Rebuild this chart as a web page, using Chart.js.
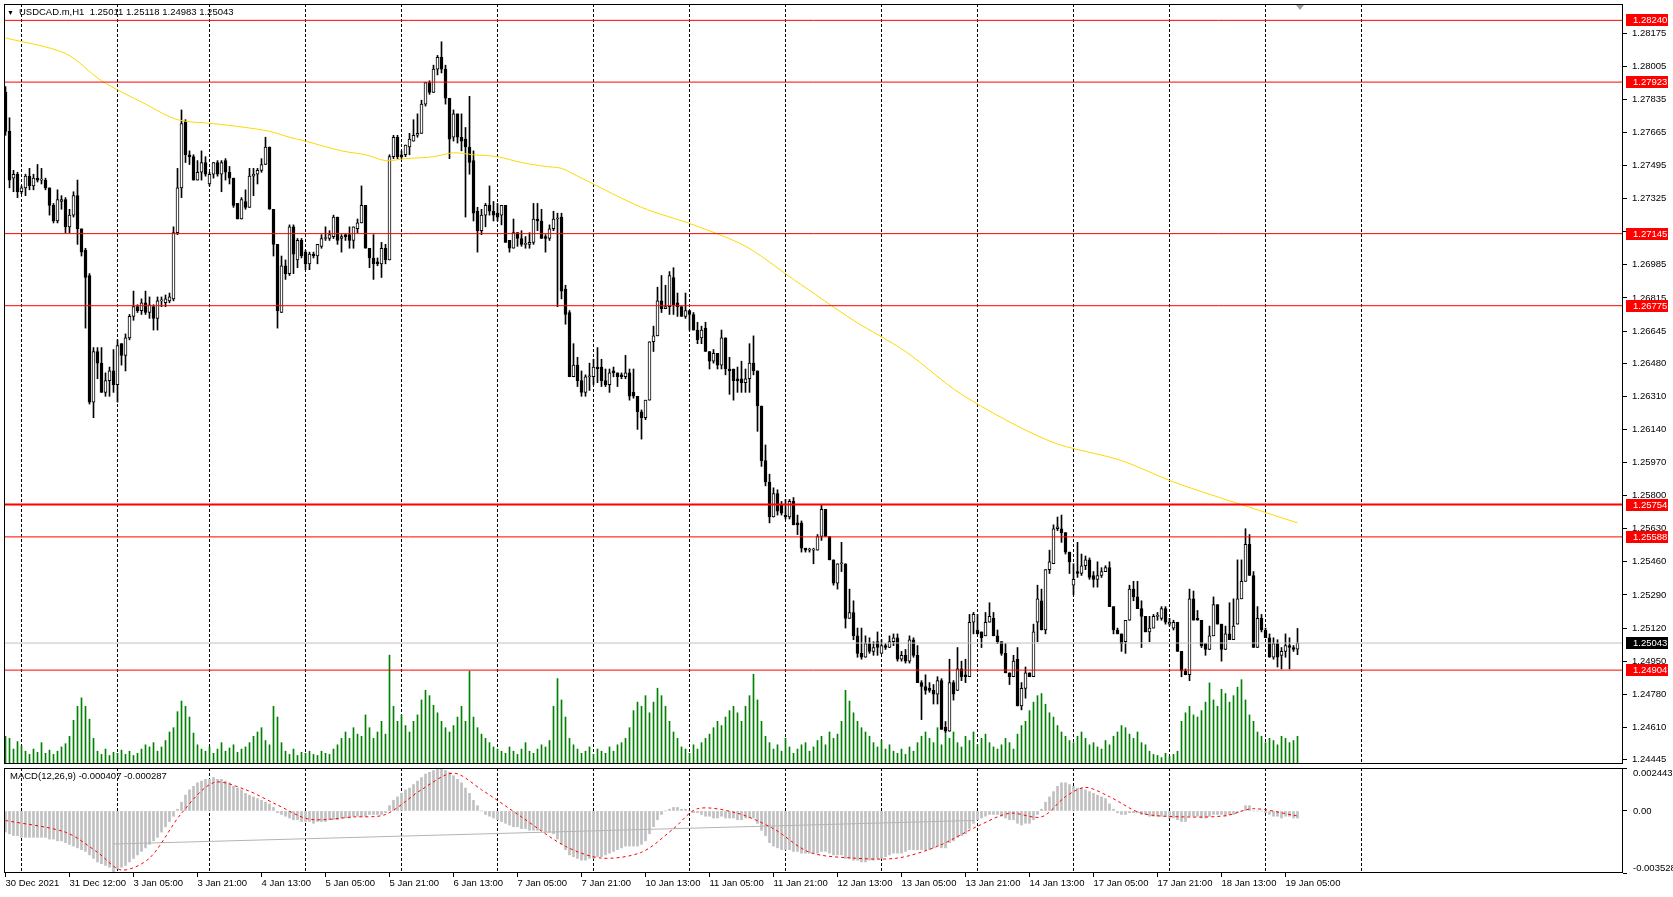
<!DOCTYPE html>
<html lang="en">
<head>
<meta charset="utf-8">
<title>USDCAD.m,H1</title>
<script src="https://cdn.jsdelivr.net/npm/chart.js@4.4.1/dist/chart.umd.min.js"></script>
<style>
  html, body { margin: 0; background: #fff; }
  #wrap { position: relative; width: 1673px; height: 897px; overflow: hidden; background: #fff; }
  canvas { position: absolute; left: 0; }
  #main { top: 0; }
  #macd { top: 767px; }
  .cap { position: absolute; font: 9.5px 'Liberation Sans', Arial, sans-serif; color: #000; white-space: pre; }
  .cap .tri { font-size: 7px; margin-right: 5px; }
  #symCap { left: 7px; top: 6px; }
  #macdCap { left: 10px; top: 770px; }
</style>
</head>
<body>
<div id="wrap">
  <canvas id="main" width="1673" height="767"></canvas>
  <canvas id="macd" width="1673" height="130"></canvas>
  <div class="cap" id="symCap"></div>
  <div class="cap" id="macdCap"></div>
</div>
<script>
// hourly candles, bar 0 = 30 Dec 2021
const open = [
  1.2787,1.2767,1.2743,1.2745,1.2736,1.2738,1.2744,1.2739,1.2743,1.2742,1.2742,1.2738,
  1.2729,1.2721,1.2731,1.2732,1.2718,1.2724,1.2734,1.2717,1.2706,1.2693,1.2628,1.2654,
  1.2648,1.2633,1.2639,1.2644,1.2637,1.2658,1.2652,1.2661,1.2672,1.2677,1.2675,1.2679,
  1.2674,1.2677,1.2671,1.2680,1.2679,1.2680,1.2681,1.2715,1.2738,1.2772,1.2755,1.2754,
  1.2742,1.2746,1.2751,1.2740,1.2745,1.2751,1.2745,1.2752,1.2746,1.2743,1.2730,1.2722,
  1.2731,1.2728,1.2744,1.2745,1.2747,1.2750,1.2759,1.2727,1.2709,1.2674,1.2698,1.2694,
  1.2718,1.2701,1.2711,1.2705,1.2699,1.2704,1.2703,1.2708,1.2712,1.2712,1.2713,1.2723,
  1.2712,1.2714,1.2714,1.2711,1.2717,1.2720,1.2729,1.2707,1.2702,1.2700,1.2699,1.2707,
  1.2701,1.2754,1.2764,1.2755,1.2755,1.2759,1.2762,1.2765,1.2766,1.2781,1.2792,1.2787,
  1.2799,1.2805,1.2799,1.2784,1.2764,1.2776,1.2764,1.2763,1.2759,1.2752,1.2726,1.2716,
  1.2724,1.2729,1.2726,1.2725,1.2724,1.2729,1.2711,1.2707,1.2715,1.2712,1.2709,1.2709,
  1.2710,1.2722,1.2721,1.2713,1.2712,1.2717,1.2722,1.2723,1.2686,1.2674,1.2641,1.2647,
  1.2639,1.2633,1.2641,1.2641,1.2646,1.2646,1.2639,1.2637,1.2644,1.2643,1.2642,1.2641,
  1.2643,1.2633,1.2631,1.2623,1.2620,1.2629,1.2659,1.2662,1.2680,1.2676,1.2677,1.2692,
  1.2679,1.2677,1.2672,1.2675,1.2673,1.2665,1.2661,1.2666,1.2654,1.2649,1.2653,1.2647,
  1.2661,1.2645,1.2645,1.2640,1.2640,1.2638,1.2640,1.2648,1.2644,1.2626,1.2598,1.2587,
  1.2569,1.2581,1.2575,1.2570,1.2569,1.2577,1.2566,1.2566,1.2553,1.2552,1.2552,1.2552,
  1.2559,1.2573,1.2559,1.2547,1.2535,1.2545,1.2545,1.2517,1.2520,1.2508,1.2499,1.2497,
  1.2504,1.2500,1.2505,1.2499,1.2503,1.2502,1.2505,1.2507,1.2496,1.2498,1.2495,1.2506,
  1.2498,1.2484,1.2482,1.2481,1.2480,1.2478,1.2485,1.2461,1.2459,1.2484,1.2480,1.2491,
  1.2488,1.2487,1.2515,1.2511,1.2510,1.2508,1.2515,1.2517,1.2508,1.2505,1.2499,1.2489,
  1.2487,1.2496,1.2472,1.2481,1.2489,1.2487,1.2515,1.2526,1.2511,1.2542,1.2545,1.2563,
  1.2563,1.2561,1.2551,1.2534,1.2541,1.2540,1.2544,1.2547,1.2539,1.2537,1.2539,1.2541,
  1.2543,1.2523,1.2511,1.2509,1.2505,1.2516,1.2532,1.2528,1.2522,1.2518,1.2510,1.2512,
  1.2518,1.2517,1.2522,1.2514,1.2512,1.2515,1.2500,1.2490,1.2488,1.2527,1.2517,1.2516,
  1.2504,1.2501,1.2508,1.2524,1.2514,1.2501,1.2509,1.2506,1.2514,1.2527,1.2536,1.2555,
  1.2539,1.2502,1.2517,1.2511,1.2507,1.2497,1.2504,1.2498,1.2500,1.2503,1.2502,1.25011
];
const high = [
  1.2790,1.2774,1.2747,1.2746,1.2739,1.2745,1.2748,1.2745,1.2750,1.2748,1.2743,1.2738,
  1.2730,1.2737,1.2734,1.2733,1.2727,1.2736,1.2742,1.2717,1.2707,1.2694,1.2656,1.2656,
  1.2656,1.2643,1.2646,1.2655,1.2660,1.2658,1.2663,1.2673,1.2685,1.2678,1.2681,1.2685,
  1.2682,1.2678,1.2682,1.2682,1.2683,1.2684,1.2718,1.2748,1.2778,1.2773,1.2757,1.2755,
  1.2752,1.2757,1.2754,1.2746,1.2751,1.2752,1.2752,1.2753,1.2749,1.2743,1.2730,1.2733,
  1.2737,1.2748,1.2748,1.2748,1.2753,1.2764,1.2759,1.2727,1.2709,1.2703,1.2701,1.2719,
  1.2719,1.2712,1.2712,1.2706,1.2705,1.2705,1.2709,1.2714,1.2718,1.2716,1.2724,1.2723,
  1.2714,1.2714,1.2718,1.2718,1.2722,1.2739,1.2729,1.2707,1.2714,1.2702,1.2710,1.2709,
  1.2755,1.2765,1.2765,1.2757,1.2760,1.2766,1.2773,1.2776,1.2783,1.2792,1.2793,1.2801,
  1.2806,1.2813,1.2801,1.2784,1.2778,1.2776,1.2776,1.2769,1.2785,1.2757,1.2728,1.2727,
  1.2730,1.2739,1.2731,1.2730,1.2729,1.2729,1.2711,1.2722,1.2715,1.2716,1.2713,1.2715,
  1.2730,1.2730,1.2727,1.2714,1.2719,1.2726,1.2725,1.2725,1.2688,1.2675,1.2658,1.2651,
  1.2644,1.2642,1.2648,1.2650,1.2656,1.2650,1.2645,1.2645,1.2646,1.2643,1.2643,1.2652,
  1.2645,1.2645,1.2631,1.2624,1.2629,1.2659,1.2667,1.2687,1.2693,1.2688,1.2695,1.2697,
  1.2684,1.2677,1.2684,1.2675,1.2674,1.2669,1.2667,1.2669,1.2654,1.2655,1.2653,1.2665,
  1.2661,1.2651,1.2645,1.2646,1.2649,1.2645,1.2658,1.2662,1.2644,1.2626,1.2606,1.2591,
  1.2584,1.2583,1.2577,1.2578,1.2578,1.2579,1.2570,1.2567,1.2553,1.2553,1.2553,1.2560,
  1.2575,1.2573,1.2559,1.2547,1.2545,1.2556,1.2545,1.2532,1.2526,1.2512,1.2512,1.2508,
  1.2507,1.2505,1.2510,1.2506,1.2504,1.2508,1.2509,1.2509,1.2500,1.2501,1.2508,1.2507,
  1.2503,1.2485,1.2488,1.2484,1.2483,1.2487,1.2486,1.2464,1.2496,1.2485,1.2502,1.2495,
  1.2496,1.2519,1.2520,1.2519,1.2510,1.2520,1.2525,1.2520,1.2511,1.2505,1.2504,1.2489,
  1.2498,1.2502,1.2484,1.2492,1.2489,1.2514,1.2534,1.2532,1.2542,1.2552,1.2565,1.2569,
  1.2570,1.2561,1.2551,1.2545,1.2556,1.2550,1.2549,1.2548,1.2541,1.2546,1.2543,1.2544,
  1.2546,1.2523,1.2512,1.2509,1.2516,1.2534,1.2536,1.2536,1.2526,1.2518,1.2518,1.2519,
  1.2520,1.2523,1.2523,1.2517,1.2516,1.2515,1.2500,1.2491,1.2532,1.2531,1.2521,1.2516,
  1.2504,1.2513,1.2528,1.2524,1.2514,1.2513,1.2525,1.2527,1.2547,1.2547,1.2563,1.2560,
  1.2541,1.2523,1.2519,1.2512,1.2509,1.2507,1.2506,1.2502,1.2509,1.2507,1.2503,1.25118
];
const low = [
  1.2765,1.2738,1.2736,1.2733,1.2735,1.2734,1.2737,1.2737,1.2741,1.2740,1.2737,1.2724,
  1.2720,1.2720,1.2727,1.2715,1.2715,1.2723,1.2709,1.2703,1.2666,1.2627,1.2620,1.2640,
  1.2633,1.2631,1.2631,1.2633,1.2628,1.2647,1.2644,1.2660,1.2670,1.2674,1.2673,1.2673,
  1.2671,1.2665,1.2665,1.2677,1.2677,1.2679,1.2680,1.2714,1.2733,1.2751,1.2750,1.2742,
  1.2742,1.2742,1.2744,1.2739,1.2743,1.2744,1.2736,1.2742,1.2740,1.2728,1.2722,1.2722,
  1.2727,1.2728,1.2734,1.2740,1.2746,1.2750,1.2727,1.2703,1.2666,1.2674,1.2691,1.2693,
  1.2694,1.2697,1.2702,1.2696,1.2696,1.2702,1.2699,1.2707,1.2711,1.2711,1.2712,1.2709,
  1.2705,1.2711,1.2707,1.2707,1.2715,1.2720,1.2707,1.2697,1.2691,1.2698,1.2692,1.2699,
  1.2701,1.2753,1.2753,1.2753,1.2754,1.2755,1.2762,1.2764,1.2766,1.2780,1.2786,1.2787,
  1.2796,1.2797,1.2781,1.2753,1.2762,1.2761,1.2757,1.2723,1.2745,1.2721,1.2705,1.2714,
  1.2718,1.2724,1.2721,1.2721,1.2719,1.2710,1.2705,1.2707,1.2708,1.2708,1.2707,1.2707,
  1.2709,1.2716,1.2712,1.2705,1.2711,1.2716,1.2677,1.2681,1.2668,1.2641,1.2641,1.2636,
  1.2631,1.2631,1.2634,1.2637,1.2638,1.2636,1.2636,1.2633,1.2641,1.2636,1.2640,1.2640,
  1.2629,1.2630,1.2614,1.2609,1.2619,1.2629,1.2654,1.2662,1.2674,1.2676,1.2673,1.2673,
  1.2672,1.2672,1.2671,1.2665,1.2665,1.2658,1.2658,1.2654,1.2645,1.2648,1.2645,1.2645,
  1.2642,1.2632,1.2629,1.2633,1.2633,1.2633,1.2633,1.2642,1.2613,1.2595,1.2585,1.2566,
  1.2569,1.2570,1.2570,1.2568,1.2568,1.2565,1.2560,1.2551,1.2551,1.2551,1.2545,1.2552,
  1.2557,1.2559,1.2547,1.2534,1.2532,1.2541,1.2512,1.2517,1.2506,1.2497,1.2496,1.2497,
  1.2499,1.2498,1.2498,1.2499,1.2501,1.2502,1.2503,1.2495,1.2495,1.2494,1.2494,1.2497,
  1.2484,1.2465,1.2478,1.2479,1.2473,1.2473,1.2460,1.2458,1.2459,1.2475,1.2480,1.2485,
  1.2484,1.2487,1.2509,1.2509,1.2502,1.2508,1.2515,1.2508,1.2504,1.2498,1.2489,1.2483,
  1.2487,1.2472,1.2470,1.2476,1.2487,1.2487,1.2505,1.2511,1.2509,1.2540,1.2545,1.2562,
  1.2556,1.2550,1.2540,1.2529,1.2538,1.2539,1.2542,1.2537,1.2533,1.2533,1.2538,1.2541,
  1.2523,1.2509,1.2509,1.2500,1.2499,1.2516,1.2526,1.2522,1.2502,1.2510,1.2505,1.2512,
  1.2516,1.2516,1.2514,1.2513,1.2511,1.2500,1.2487,1.2488,1.2485,1.2516,1.2516,1.2502,
  1.2498,1.2501,1.2508,1.2514,1.2495,1.2501,1.2506,1.2506,1.2514,1.2527,1.2536,1.2539,
  1.2502,1.2502,1.2510,1.2507,1.2497,1.2496,1.2492,1.2491,1.2497,1.2491,1.2500,1.24983
];
const close = [
  1.2767,1.2742,1.2745,1.2736,1.2738,1.2744,1.2739,1.2743,1.2742,1.2742,1.2738,1.2729,
  1.2721,1.2732,1.2732,1.2718,1.2724,1.2734,1.2717,1.2705,1.2692,1.2628,1.2654,1.2648,
  1.2633,1.2639,1.2644,1.2637,1.2657,1.2652,1.2661,1.2672,1.2677,1.2675,1.2679,1.2674,
  1.2678,1.2671,1.2680,1.2680,1.2681,1.2682,1.2715,1.2738,1.2771,1.2755,1.2754,1.2742,
  1.2746,1.2751,1.2745,1.2745,1.2751,1.2745,1.2751,1.2746,1.2743,1.2729,1.2722,1.2732,
  1.2728,1.2744,1.2745,1.2747,1.2750,1.2759,1.2727,1.2709,1.2675,1.2698,1.2694,1.2718,
  1.2704,1.2711,1.2703,1.2699,1.2704,1.2703,1.2709,1.2712,1.2712,1.2714,1.2723,1.2711,
  1.2713,1.2713,1.2711,1.2718,1.2720,1.2729,1.2707,1.2702,1.2699,1.2699,1.2707,1.2701,
  1.2754,1.2764,1.2754,1.2754,1.2760,1.2763,1.2765,1.2766,1.2781,1.2792,1.2787,1.2799,
  1.2805,1.2799,1.2784,1.2763,1.2776,1.2764,1.2762,1.2759,1.2751,1.2725,1.2716,1.2724,
  1.2729,1.2726,1.2724,1.2723,1.2729,1.2710,1.2707,1.2715,1.2712,1.2709,1.2709,1.2710,
  1.2722,1.2721,1.2712,1.2712,1.2717,1.2722,1.2722,1.2685,1.2673,1.2641,1.2647,1.2639,
  1.2633,1.2641,1.2641,1.2646,1.2645,1.2639,1.2637,1.2643,1.2643,1.2641,1.2641,1.2643,
  1.2631,1.2631,1.2623,1.2620,1.2629,1.2659,1.2662,1.2680,1.2676,1.2677,1.2693,1.2678,
  1.2677,1.2672,1.2675,1.2673,1.2665,1.2660,1.2665,1.2654,1.2649,1.2653,1.2647,1.2661,
  1.2645,1.2644,1.2639,1.2639,1.2638,1.2640,1.2648,1.2644,1.2626,1.2598,1.2587,1.2569,
  1.2581,1.2572,1.2571,1.2569,1.2577,1.2565,1.2565,1.2553,1.2552,1.2552,1.2552,1.2559,
  1.2573,1.2559,1.2547,1.2535,1.2545,1.2545,1.2517,1.2520,1.2508,1.2499,1.2497,1.2504,
  1.2500,1.2502,1.2502,1.2503,1.2502,1.2505,1.2507,1.2496,1.2498,1.2495,1.2506,1.2498,
  1.2484,1.2482,1.2480,1.2480,1.2478,1.2485,1.2460,1.2459,1.2484,1.2478,1.2491,1.2487,
  1.2487,1.2515,1.2519,1.2509,1.2507,1.2515,1.2518,1.2508,1.2505,1.2499,1.2489,1.2487,
  1.2495,1.2472,1.2481,1.2489,1.2487,1.2510,1.2527,1.2511,1.2542,1.2546,1.2563,1.2564,
  1.2561,1.2551,1.2546,1.2537,1.2540,1.2544,1.2547,1.2538,1.2537,1.2539,1.2541,1.2543,
  1.2523,1.2511,1.2509,1.2504,1.2516,1.2532,1.2528,1.2522,1.2518,1.2510,1.2512,1.2518,
  1.2518,1.2522,1.2515,1.2515,1.2515,1.2500,1.2490,1.2488,1.2527,1.2516,1.2516,1.2503,
  1.2501,1.2508,1.2524,1.2514,1.2501,1.2509,1.2506,1.2513,1.2527,1.2536,1.2555,1.2539,
  1.2502,1.2517,1.2511,1.2507,1.2497,1.2504,1.2497,1.2500,1.2503,1.2502,1.2501,1.25043
];
// tick volume per bar
const tickVolume = [
  26,24,14,21,17,
  12,9,14,11,20,10,13,9,12,16,
  19,26,41,54,62,54,42,24,
  12,9,14,8,11,10,13,9,12,8,10,14,18,16,20,12,16,22,30,
  34,49,59,54,44,
  29,18,14,12,16,10,14,20,12,15,18,11,14,16,20,26,30,34,22,18,
  54,44,
  20,12,9,14,8,11,10,12,9,8,12,10,9,14,18,24,
  30,24,34,28,26,46,34,24,30,40,28,
  102,
  54,40,46,36,
  30,40,46,60,69,64,55,48,40,34,30,
  36,44,54,40,
  87,
  44,34,28,24,20,16,
  14,12,10,16,12,9,14,20,12,10,14,18,16,22,
  54,80,60,44,
  24,18,14,10,12,16,9,14,12,10,16,12,18,20,24,34,
  50,58,54,64,48,58,71,
  64,54,40,30,
  24,16,14,10,18,14,20,24,28,34,
  40,36,44,50,54,48,40,54,
  64,84,60,
  40,26,20,14,18,12,24,16,10,14,18,20,12,16,22,26,18,30,24,28,40,
  69,59,48,40,
  34,30,26,20,16,22,14,18,
  12,10,14,9,16,12,20,26,
  30,24,20,34,18,28,24,30,20,16,26,
  22,30,18,24,28,20,16,14,18,24,20,14,28,36,40,50,
  58,64,66,56,48,
  44,36,30,26,22,
  20,26,30,24,18,20,16,14,22,18,26,
  30,36,34,28,24,30,20,18,12,9,
  8,6,10,7,9,12,
  40,48,54,46,44,50,
  58,76,60,54,70,66,58,64,72,79,
  60,46,40,30,26,
  20,24,22,18,26,24,20,22,26
];
// moving average, read at selected bars
const maBars = [0,15,24,35,43,52,60,66,71,75,84,90,95,100,107,112,117,123,129,135,139,144,159,172,185,197,212,225,239,261,279,292,311,323];
const maValues = [1.2815,1.2807,1.2793,1.2781,1.2773,1.2771,1.2769,1.2767,1.2764,1.2762,1.2757,1.2755,1.2752,1.2753,1.2754,1.2756,1.2755,1.2754,1.2751,1.2749,1.2748,1.2743,1.2728,1.2719,1.2708,1.2691,1.2670,1.2654,1.2632,1.2608,1.2598,1.2587,1.2574,1.2566];
// horizontal levels
const levels = [1.28240, 1.27923, 1.27145, 1.26775, 1.25754, 1.25588, 1.24904];
const levelWidths = [1, 1, 1, 1, 2, 1, 1];
const lastPrice = 1.25043;
// MACD(12,26,9) main line per bar
const macdMain = [
  -0.0012,-0.0013,-0.0014,-0.0014,-0.0015,-0.0015,
  -0.0015,-0.0015,-0.0015,-0.0015,-0.0015,-0.0016,-0.0016,-0.0017,-0.0017,
  -0.0018,-0.0019,-0.0020,-0.0021,-0.0022,-0.0023,
  -0.0025,-0.0027,-0.0029,-0.0030,-0.0031,-0.0032,
  -0.00353,-0.0033,-0.0032,-0.0031,
  -0.0029,-0.0027,-0.0025,-0.0023,
  -0.0021,-0.0019,-0.0017,-0.0015,-0.0012,
  -0.0009,-0.0006,-0.0003,0.0001,
  0.0005,0.0009,0.0012,0.0014,
  0.0016,0.0017,0.0018,0.0018,0.0019,0.0018,0.0018,
  0.0017,0.0016,0.0014,0.0013,0.0012,0.0010,
  0.0009,0.0008,0.0007,0.0006,0.0005,0.0004,0.0002,
  -0.0001,-0.0002,-0.0003,-0.0004,-0.0005,
  -0.0005,-0.0006,-0.0006,-0.0006,-0.0007,-0.0006,-0.0006,-0.0006,
  -0.0005,-0.0005,-0.0005,-0.0004,-0.0004,-0.0004,-0.0003,-0.0003,
  -0.0003,-0.0003,-0.0002,-0.0002,-0.0002,-0.0002,-0.0001,
  0.0003,0.0006,0.0008,0.0010,0.0012,0.0013,
  0.0015,0.0017,0.0019,0.0021,0.0022,0.0023,
  0.0024,0.002443,0.0023,0.0022,
  0.0020,0.0018,0.0016,0.0013,0.0010,0.0006,
  0.0003,0.0000,-0.0002,-0.0003,-0.0004,
  -0.0005,-0.0006,-0.0007,-0.0008,-0.0009,-0.0009,-0.0010,-0.0010,-0.0011,-0.0011,
  -0.0011,-0.0011,-0.0012,-0.0012,-0.0013,-0.0016,-0.0019,-0.0022,
  -0.0025,-0.0026,-0.0027,-0.0028,-0.0028,-0.0027,-0.0027,-0.0026,
  -0.0026,-0.0025,-0.0024,-0.0023,-0.0022,-0.0021,-0.0020,-0.0020,
  -0.0020,-0.0020,-0.0019,-0.0017,-0.0013,-0.0009,-0.0005,
  -0.0002,0.0000,0.0001,0.0002,0.0002,0.0001,0.0001,
  0.0000,-0.0001,-0.0001,-0.0002,-0.0003,-0.0003,-0.0004,-0.0004,
  -0.0003,-0.0004,-0.0004,-0.0004,-0.0005,-0.0005,-0.0004,-0.0004,-0.0004,
  -0.0007,-0.0011,-0.0014,-0.0018,-0.0020,-0.0021,
  -0.0022,-0.0022,-0.0022,-0.0023,-0.0023,-0.0024,-0.0024,
  -0.0024,-0.0024,-0.0024,-0.0023,-0.0023,-0.0024,-0.0025,-0.0025,
  -0.0025,-0.0027,-0.0027,-0.0028,-0.0028,-0.0029,-0.0029,-0.0028,
  -0.0028,-0.0027,-0.0027,-0.0026,-0.0025,-0.0024,-0.0024,-0.0024,
  -0.0023,-0.0022,-0.0022,-0.0022,-0.0022,-0.0022,-0.0022,-0.0021,-0.0020,
  -0.0021,-0.0021,-0.0018,-0.0017,-0.0015,-0.0014,-0.0013,-0.0010,
  -0.0007,-0.0005,-0.0004,-0.0003,-0.0002,-0.0002,-0.0002,-0.0003,-0.0004,
  -0.0005,-0.0005,-0.0007,-0.0008,-0.0007,-0.0007,-0.0005,
  -0.0002,0.0001,0.0005,0.0008,0.0011,0.0014,
  0.0016,0.0016,0.0015,0.0014,0.0013,0.0013,
  0.0012,0.0011,0.0010,0.0009,0.0008,0.0007,0.0004,
  0.0001,-0.0001,-0.0002,-0.0002,-0.0001,-0.0001,-0.0001,-0.0002,
  -0.0002,-0.0003,-0.0003,-0.0003,-0.0003,-0.0003,-0.0004,-0.0004,-0.0005,
  -0.0006,-0.0006,-0.0003,-0.0003,-0.0003,-0.0004,-0.0004,-0.0003,-0.0002,
  -0.0002,-0.0002,-0.0003,-0.0002,-0.0002,-0.0001,0.0000,
  0.0003,0.0003,0.0000,0.0000,0.0000,
  -0.0001,-0.0002,-0.0003,-0.0003,-0.0004,-0.0003,-0.0003,-0.0004,-0.000407
];
// signal line, read at selected bars
const signalBars = [0,15,23,29,36,44,52,60,68,76,87,95,104,112,119,129,140,149,159,167,173,183,192,201,212,223,233,243,251,259,265,270,276,284,295,305,312,323];
const signalValues = [-0.00054,-0.00121,-0.00235,-0.00336,-0.00268,-0.00013,0.00161,0.00121,0.00034,-0.00047,-0.00034,-0.00020,0.00121,0.00215,0.00121,-0.00034,-0.00201,-0.00268,-0.00235,-0.00101,0.00013,-0.00013,-0.00101,-0.00235,-0.00268,-0.00268,-0.00201,-0.00087,-0.00013,-0.00034,0.00081,0.00134,0.00081,-0.00013,-0.00034,-0.00027,0.00013,-0.000287];
const macdTrendBars = [27, 242];
const macdTrendValues = [-0.00188, -0.00054];
// axes
const priceTicks = [1.28175,1.28005,1.27835,1.27665,1.27495,1.27325,1.27155,1.26985,1.26815,1.26645,1.26480,1.26310,1.26140,1.25970,1.25800,1.25630,1.25460,1.25290,1.25120,1.24950,1.24780,1.24610,1.24445];
const macdTicks = [0.002443, 0, -0.003528];
const macdTickLabels = ['0.002443', '0.00', '-0.003528'];
const timeBars = [0,16,32,48,64,80,96,112,128,144,160,176,192,208,224,240,256,272,288,304,320];
const timeLabels = ['30 Dec 2021','31 Dec 12:00','3 Jan 05:00','3 Jan 21:00','4 Jan 13:00','5 Jan 05:00','5 Jan 21:00','6 Jan 13:00','7 Jan 05:00','7 Jan 21:00','10 Jan 13:00','11 Jan 05:00','11 Jan 21:00','12 Jan 13:00','13 Jan 05:00','13 Jan 21:00','14 Jan 13:00','17 Jan 05:00','17 Jan 21:00','18 Jan 13:00','19 Jan 05:00'];
const gridBars = [4,28,51,75,99,123,147,171,195,219,243,267,291,315,339];
const shiftMarkBar = 323.6;

const X_MIN = -0.375, X_MAX = 404.375;
const PRICE_MIN = 1.24422, PRICE_MAX = 1.28324;
const VOL_MAX = 712;
const FONT = { family: "'Liberation Sans', Arial, sans-serif", size: 9.5 };

document.getElementById('symCap').innerHTML = '<span class="tri">&#9660;</span>USDCAD.m,H1  ' +
  [open, high, low, close].map(a => a[a.length - 1].toFixed(5)).join(' ');
document.getElementById('macdCap').textContent = 'MACD(12,26,9) ' +
  macdMain[macdMain.length - 1].toFixed(6) + ' ' + signalValues[signalValues.length - 1].toFixed(6);

const frame = {
  id: 'frame',
  afterDraw(chart) {
    const { ctx, chartArea: a } = chart;
    ctx.save();
    ctx.strokeStyle = '#000';
    ctx.lineWidth = 1;
    ctx.strokeRect(a.left + 0.5, a.top + 0.5, a.width - 1, a.height - 1);
    ctx.restore();
  }
};

const priceTags = {
  id: 'priceTags',
  afterDraw(chart) {
    const { ctx, chartArea: a, scales } = chart;
    const y = scales.y;
    ctx.save();
    ctx.font = FONT.size + 'px ' + FONT.family;
    ctx.textBaseline = 'middle';
    const tag = (v, bg) => {
      const py = Math.round(y.getPixelForValue(v));
      ctx.fillStyle = bg;
      ctx.fillRect(a.right + 3, py - 6, 42, 12);
      ctx.fillStyle = '#fff';
      ctx.fillText(v.toFixed(5), a.right + 10, py + 0.5);
    };
    levels.forEach(v => tag(v, '#ff0000'));
    tag(lastPrice, '#000');
    // chart shift marker at the top edge
    const sx = Math.round(scales.x.getPixelForValue(shiftMarkBar));
    ctx.fillStyle = '#a0a0a0';
    ctx.beginPath();
    ctx.moveTo(sx - 4, a.top + 1);
    ctx.lineTo(sx + 4, a.top + 1);
    ctx.lineTo(sx, a.top + 6);
    ctx.closePath();
    ctx.fill();
    ctx.restore();
  }
};

const noPad = s => { s.paddingTop = 0; s.paddingBottom = 0; s.paddingLeft = 0; s.paddingRight = 0; };

const gridAxis = () => ({
  type: 'linear', min: X_MIN, max: X_MAX, offset: false,
  afterBuildTicks: s => { s.ticks = gridBars.map(v => ({ value: v })); },
  ticks: { display: false },
  grid: { color: '#000', lineWidth: 1, drawTicks: false, offset: false },
  border: { display: false, dash: [3, 2] },
  afterFit: s => { s.height = 0; noPad(s); }
});

const bodies = open.map((o, i) => ({ x: i, y: [o, close[i]] }));
const wicks = low.map((l, i) => ({ x: i, y: [l, high[i]] }));
const bodyColors = open.map((o, i) => close[i] >= o ? '#ffffff' : '#000000');

const levelSets = levels.map((lv, k) => ({
  type: 'line', data: [{ x: X_MIN, y: lv }, { x: X_MAX, y: lv }],
  borderColor: '#ff0000', borderWidth: levelWidths[k], pointRadius: 0, order: 1
}));

new Chart(document.getElementById('main'), {
  type: 'bar',
  data: {
    datasets: [
      {
        data: tickVolume.map((v, i) => ({ x: i, y: v })), yAxisID: 'yv',
        backgroundColor: '#008000', barThickness: 1, grouped: false, order: 9
      },
      {
        data: wicks, backgroundColor: '#000', barThickness: 1, grouped: false, order: 5
      },
      {
        data: bodies, backgroundColor: bodyColors, borderColor: '#000', borderWidth: 1,
        borderSkipped: false, barThickness: 3, minBarLength: 1, grouped: false, order: 4
      },
      {
        type: 'line', data: maBars.map((b, i) => ({ x: b, y: maValues[i] })),
        borderColor: '#ffd700', borderWidth: 1, pointRadius: 0, tension: 0.3, order: 3
      },
      {
        type: 'line', data: [{ x: X_MIN, y: lastPrice }, { x: X_MAX, y: lastPrice }],
        borderColor: '#c0c0c0', borderWidth: 1, pointRadius: 0, order: 2
      },
      ...levelSets
    ]
  },
  options: {
    responsive: false,
    animation: false,
    events: [],
    layout: { padding: { left: 4, top: 4, right: 0, bottom: 3 } },
    plugins: { legend: { display: false }, tooltip: { enabled: false } },
    scales: {
      x: gridAxis(),
      y: {
        position: 'right', min: PRICE_MIN, max: PRICE_MAX,
        afterBuildTicks: s => { s.ticks = priceTicks.map(v => ({ value: v })); },
        afterFit: s => { s.width = 50; noPad(s); },
        grid: { drawOnChartArea: false, tickLength: 4, color: '#000' },
        border: { display: false },
        ticks: { font: FONT, color: '#000', padding: 5, autoSkip: false, callback: v => v.toFixed(5) }
      },
      yv: { display: false, min: 0, max: VOL_MAX }
    }
  },
  plugins: [frame, priceTags]
});

const macdTags = {
  id: 'macdTags',
  afterDraw(chart) {
    const { ctx, chartArea: a, scales } = chart;
    ctx.save();
    ctx.font = FONT.size + 'px ' + FONT.family;
    ctx.fillStyle = '#000';
    ctx.textBaseline = 'middle';
    macdTicks.forEach((v, i) => {
      const shift = i === 0 ? 5 : (i === macdTicks.length - 1 ? -5 : 0);
      ctx.fillText(macdTickLabels[i], a.right + 10, scales.y.getPixelForValue(v) + shift);
    });
    ctx.restore();
  }
};

new Chart(document.getElementById('macd'), {
  type: 'bar',
  data: {
    datasets: [
      {
        data: macdMain.map((v, i) => ({ x: i, y: v })), xAxisID: 'x',
        backgroundColor: '#c0c0c0', barThickness: 2, grouped: false, order: 5
      },
      {
        type: 'line', xAxisID: 'x', data: macdTrendBars.map((b, i) => ({ x: b, y: macdTrendValues[i] })),
        borderColor: '#b4b4b4', borderWidth: 1, pointRadius: 0, order: 3
      },
      {
        type: 'line', xAxisID: 'x', data: signalBars.map((b, i) => ({ x: b, y: signalValues[i] })),
        borderColor: '#ff0000', borderWidth: 1, borderDash: [3, 3], pointRadius: 0, tension: 0.3, order: 1
      }
    ]
  },
  options: {
    responsive: false,
    animation: false,
    events: [],
    layout: { padding: { left: 4, top: 1, right: 0, bottom: 0 } },
    plugins: { legend: { display: false }, tooltip: { enabled: false } },
    scales: {
      x: {
        type: 'linear', min: X_MIN, max: X_MAX, offset: false,
        afterBuildTicks: s => { s.ticks = timeBars.map(v => ({ value: v })); },
        afterFit: s => { s.height = 24; noPad(s); },
        grid: { drawOnChartArea: false, tickLength: 4, color: '#000', offset: false },
        border: { display: false },
        ticks: {
          font: FONT, color: '#000', padding: 1, autoSkip: false, maxRotation: 0, align: 'start',
          callback: (v, i) => timeLabels[i]
        }
      },
      xg: gridAxis(),
      y: {
        position: 'right', min: macdTicks[2], max: macdTicks[0],
        afterBuildTicks: s => { s.ticks = macdTicks.map(v => ({ value: v })); },
        afterFit: s => { s.width = 50; noPad(s); },
        grid: { drawOnChartArea: false, tickLength: 4, color: '#000' },
        border: { display: false },
        ticks: { display: false }
      }
    }
  },
  plugins: [frame, macdTags]
});
</script>
</body>
</html>
